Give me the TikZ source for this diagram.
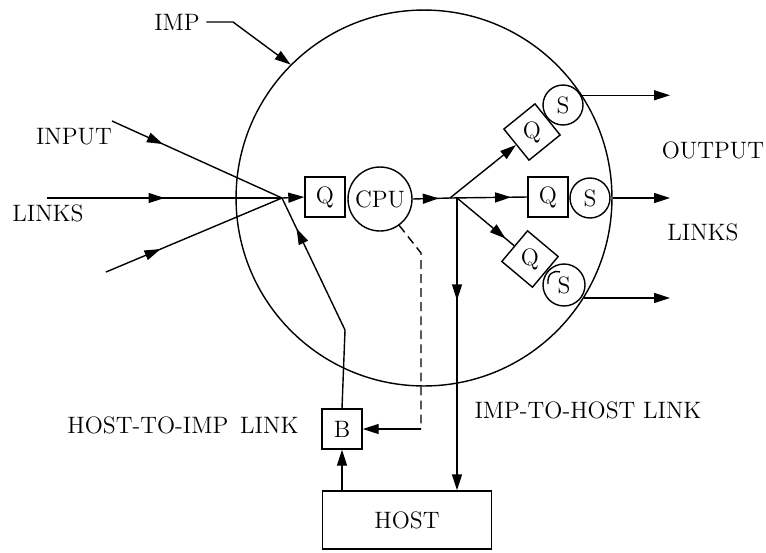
\documentclass[tikz,border=0pt]{standalone}
\usetikzlibrary{arrows.meta,decorations.markings}
\tikzset{qbox/.style={draw, minimum width=0.8cm, minimum height=0.8cm, inner sep=0pt},
         sbox/.style={draw, circle, minimum size=0.8cm, inner sep=0pt},
         arr/.style={-{Triangle[length=3.2mm,width=2mm]}},
         midarr/.style={postaction={decorate}, decoration={markings,
             mark=at position #1 with {\arrow{Triangle[length=3.2mm,width=2mm]}}}}}

\begin{document}
\begin{tikzpicture}[x=0.02cm, y=-0.02cm, line width=0.8pt, font=\fontsize{13.5}{15}\selectfont]
        \useasboundingbox (0,0) rectangle (766,552);

        % the IMP
        \node[draw, circle, minimum size=7.52cm, inner sep=0pt] (imp) at (424,198) {};
        \node (implabel) at (177,22) {IMP};
        \coordinate (impbend) at (233,22);
        \draw[arr] (implabel.east) -- (impbend) -- (imp.135);

        % input links
        \node (inlabel) at (74,137) {INPUT};
        \node (inlinks) at (48,213) {LINKS};
        \coordinate (in1) at (112,121);
        \coordinate (in2) at (47,198);
        \coordinate (in3) at (106,272);
        \coordinate (jin) at (282,198);
        \draw[midarr=0.3] (in1) -- (jin);
        \draw[midarr=0.5] (in2) -- (jin);
        \draw[midarr=0.31] (in3) -- (jin);

        \node[qbox] (q1) at (325,197) {Q};
        \node[sbox, minimum size=1.28cm] (cpu) at (380,199) {CPU};
        \draw[arr] (jin) -- (q1.west);

        \coordinate (jout) at (450,198);
        \coordinate (jdown) at (457,198);
        \draw[midarr=0.7] (cpu.east) -- (jout);

        % output queues and senders
        \node[qbox, rotate=39] (q2) at (532,132) {\rotatebox{-39}{Q}};
        \node[sbox] (s2) at (563,105) {S};
        \node[qbox] (q3) at (548,197) {Q};
        \node[sbox] (s3) at (590,198) {S};
        \node[qbox, rotate=-40] (q4) at (530,259) {\rotatebox{40}{Q}};
        \node[sbox, minimum size=0.84cm] (s4) at (564,285) {S};
        \draw (548,284) .. controls (547,274) and (553,270) .. (560,272);

        \draw[arr] (jout) -- (q2.west);
        \draw[midarr=0.79] (jout) -- (q3.west);
        \draw[midarr=0.85] (jdown) -- (q4.west);

        % output links
        \coordinate (outx) at (670,0);
        \draw[arr] (imp.33) -- (imp.33 -| outx);
        \draw[arr] (imp.east) -- (imp.east -| outx);
        \draw[arr] (imp.-32) -- (imp.-32 -| outx);
        \node (outlabel) at (713,150) {OUTPUT};
        \node (outlinks) at (703,232) {LINKS};

        % host side
        \node[draw, minimum width=3.38cm, minimum height=1.16cm] (host) at (407,520) {HOST};
        \node[qbox] (b) at (342,429) {B};
        \draw[arr] (host.north -| b) -- (b);

        \coordinate (bbend) at (345,330);
        \draw[midarr=0.85] (b.north) -- (bbend) -- (jin);

        \draw[arr, midarr=0.35] (jdown) -- (jdown |- host.north);

        \coordinate (dk) at (421,253);
        \draw[dashed, dash pattern=on 5pt off 3pt] (cpu.-54) -- (dk) -- (dk |- b.east);
        \draw[arr] (dk |- b.east) -- (b.east);

        \node (hilabel) at (183,425) {HOST-TO-IMP\enspace LINK};
        \node (ihlabel) at (588,410) {IMP-TO-HOST LINK};
    \end{tikzpicture}
\end{document}
